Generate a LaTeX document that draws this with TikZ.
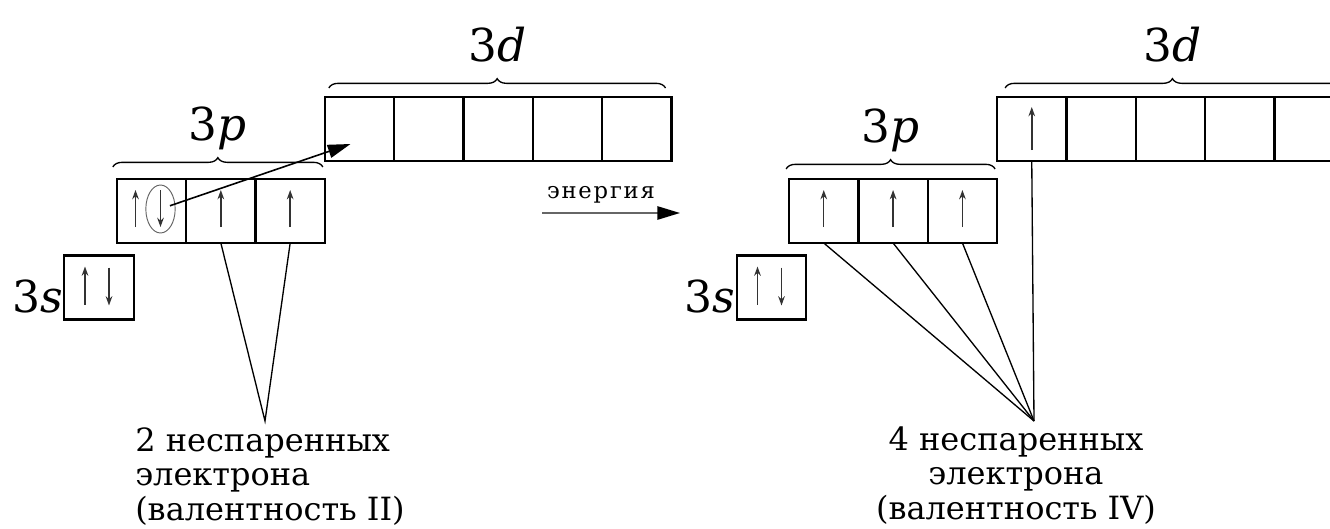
\documentclass[tikz,border=0pt]{standalone}
\usepackage{fontspec}
\setmainfont{DejaVu Serif}
\newfontfamily\spacedfont[LetterSpace=8]{DejaVu Serif}
\usetikzlibrary{positioning,arrows.meta,calc,shapes.geometric,decorations.pathreplacing}

\begin{document}
\begin{tikzpicture}[x=0.75pt,y=-0.75pt,
  cell/.style={draw,line width=1.7pt,minimum width=52pt,minimum height=48pt,inner sep=0pt,outer sep=0pt},
  spin/.style={line width=1.1pt,black!80,-{Stealth[length=7pt,width=5pt]}},
  lead/.style={line width=1pt},
  brc/.style={decorate,decoration={brace,amplitude=7pt},line width=1pt},
  orb/.style={font=\fontsize{34}{36}\selectfont,anchor=base,inner sep=0pt,yshift=20pt},
  note/.style={inner sep=0pt,font=\fontsize{24}{26}\selectfont}]
\useasboundingbox (0,0) rectangle (1330,528);
% ground state: 3s, 3p, empty 3d
\node[cell] (ls) at (99,287.5) {};
\node[anchor=base east,inner sep=1pt,font=\fontsize{33}{33}\selectfont] (lsl) at ($(ls.south west)+(0,-7)$) {3\textit{s}};
\node[cell] (lp1) at (151.5,211) {};
\node[cell,right=0pt of lp1] (lp2) {};
\node[cell,right=0pt of lp2] (lp3) {};
\node[cell,above right=13.5pt and 0pt of lp3] (ld1) {};
\foreach \i [count=\j from 2] in {1,...,4}
  \node[cell,right=0pt of ld\i] (ld\j) {};
\draw[spin] ($(ls.center)+(-14,17)$) -- ++(0,-38);
\draw[spin] ($(ls.center)+(10,-20)$) -- ++(0,38);
\draw[spin] ($(lp1.center)+(-16,16)$) -- ++(0,-37);
\draw[spin] ($(lp1.center)+(9,-21)$) -- ++(0,37);
\draw[spin] ($(lp2.center)+(0,16)$) -- ++(0,-37);
\draw[spin] ($(lp3.center)+(0,16)$) -- ++(0,-37);
\node[ellipse,draw,black!60,line width=0.7pt,minimum width=22pt,minimum height=36pt,inner sep=0pt] (lel) at ($(lp1.center)+(9,-2)$) {};
\draw[brc] ($(lp1.north west)+(-4,-12)$) -- node[orb] (lpl) {3\textit{p}} ($(lp3.north east)+(-2,-12)$);
\draw[brc] ($(ld1.north west)+(4,-9)$) -- node[orb] (ldl) {3\textit{d}} ($(ld5.north east)+(-6,-9)$);
% promotion of one electron
\coordinate (tip) at ($(ld1.center)+(-9,15)$);
\draw[line width=1.2pt,-{Triangle[length=17pt,width=10pt]},shorten <=7.5pt] (lel.center) -- (tip);
\coordinate (lv) at (265,421);
\draw[lead] (lp2.south) -- (lv) -- (lp3.south);
\node[note,anchor=north west,align=left] (ltxt) at (135,427) {2 неспаренных\\электрона\\(валентность II)};
% energy arrow
\node[anchor=base,inner sep=0pt,font=\spacedfont\fontsize{17}{17}\selectfont] (en) at (601,198) {энергия};
\coordinate (e0) at (542,213);
\coordinate (e1) at (680,213);
\draw[line width=1.3pt,black!60,-{Triangle[length=17pt,width=10pt,black]}] (e0) -- (e1);
% excited state
\node[cell] (rs) at (771.5,287.5) {};
\node[anchor=base east,inner sep=1pt,font=\fontsize{33}{33}\selectfont] (rsl) at ($(rs.south west)+(0,-7)$) {3\textit{s}};
\node[cell] (rp1) at (823.75,211) {};
\node[cell,right=0pt of rp1] (rp2) {};
\node[cell,right=0pt of rp2] (rp3) {};
\node[cell,above right=13.5pt and 0pt of rp3] (rd1) {};
\foreach \i [count=\j from 2] in {1,...,4}
  \node[cell,right=0pt of rd\i] (rd\j) {};
\draw[spin] ($(rs.center)+(-14,17)$) -- ++(0,-38);
\draw[spin] ($(rs.center)+(10,-20)$) -- ++(0,38);
\foreach \c in {rp1,rp2,rp3}
  \draw[spin] ($(\c.center)+(0,16)$) -- ++(0,-37);
\draw[spin] ($(rd1.center)+(0,21)$) -- ++(0,-43);
\draw[brc] ($(rp1.north west)+(-3,-10)$) -- node[orb] (rpl) {3\textit{p}} ($(rp3.north east)+(-2,-10)$);
\draw[brc] ($(rd1.north west)+(8,-9)$) -- node[orb] (rdl) {3\textit{d}} ($(rd5.north east)+(-4,-9)$);
\coordinate (rv) at (1034,421);
\foreach \c in {rp1,rp2,rp3,rd1}
  \draw[lead] (\c.south) -- (rv);
\node[note,anchor=north,align=center] (rtxt) at (1016,426) {4 неспаренных\\электрона\\(валентность IV)};
\end{tikzpicture}
\end{document}
